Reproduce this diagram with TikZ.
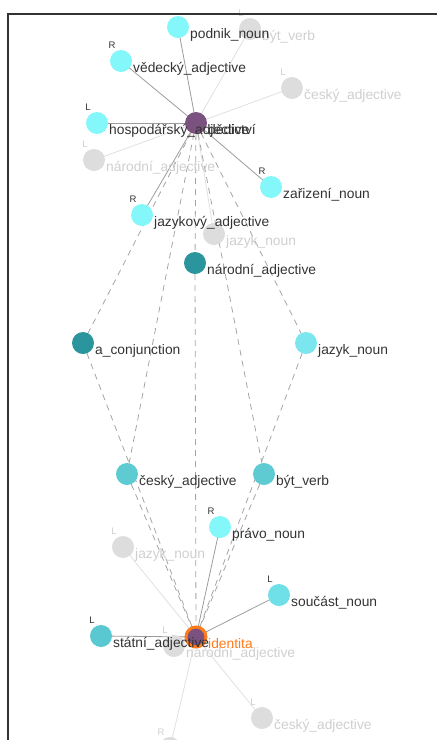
\documentclass[tikz,border=0pt]{standalone}
\usepackage{fontspec}
\setmainfont{Liberation Sans}
\definecolor{txt}{HTML}{333333}
\definecolor{gtxt}{HTML}{CFCFCF}
\definecolor{gdot}{HTML}{DDDDDD}
\definecolor{lcyan}{HTML}{84F7FB}
\definecolor{jcyan}{HTML}{7BE6EE}
\definecolor{scyan}{HTML}{70E0E8}
\definecolor{mcyan}{HTML}{5ECBD3}
\definecolor{stcyan}{HTML}{5AC8D0}
\definecolor{teal}{HTML}{2A959C}
\definecolor{purp}{HTML}{7B5180}
\definecolor{orng}{HTML}{FF7A1A}
\definecolor{edgec}{HTML}{9C9C9C}
\definecolor{ledge}{HTML}{E0E0E0}
\definecolor{dedge}{HTML}{A5A5A5}
\definecolor{framec}{HTML}{333333}
\tikzset{
  dot/.style={circle, minimum size=22pt, inner sep=0pt, draw=none},
  lbl/.style={anchor=base west, font=\fontsize{13.8}{14}\selectfont, text=txt, inner sep=0pt},
  glbl/.style={lbl, text=gtxt},
  mk/.style={font=\fontsize{9.5}{10}\selectfont, text=txt, inner sep=0pt},
  gmk/.style={mk, text=gtxt},
  soledge/.style={draw=edgec, line width=0.8pt},
  litedge/.style={draw=ledge, line width=0.8pt},
  dashedge/.style={draw=dedge, line width=0.8pt, dash pattern=on 6pt off 5pt},
}
\newcommand{\lab}[3]{\node[#3] (#1-l) at ([xshift=12pt,yshift=-11pt]#1.center) {#2};}
\newcommand{\mrk}[3]{\node[#3] (#1-m) at ([xshift=-9pt,yshift=16pt]#1.center) {#2};}
\begin{document}
\begin{tikzpicture}[x=1pt,y=-1pt]
\useasboundingbox (0,0) rectangle (437,740);
\begin{scope}
\clip (0,0) rectangle (437,740);
\coordinate (pT) at (196,123);
\coordinate (pB) at (196,637);
% gray node positions
\coordinate (g1) at (250,29);
\coordinate (g2) at (292,88);
\coordinate (g3) at (94,160);
\coordinate (g4) at (214,234);
\coordinate (g5) at (123,547);
\coordinate (g6) at (174,646);
\coordinate (g7) at (262,718);
\coordinate (g8) at (170,748);
% coloured node positions
\coordinate (c1) at (178,27);
\coordinate (c2) at (121,61);
\coordinate (c3) at (97,123);
\coordinate (c4) at (271,187);
\coordinate (c5) at (142,215);
\coordinate (t1) at (195,263);
\coordinate (t2) at (83,343);
\coordinate (j1) at (306,343);
\coordinate (m1) at (127,474);
\coordinate (m2) at (264,474);
\coordinate (c6) at (220,527);
\coordinate (s1) at (279,595);
\coordinate (s2) at (101,636);
% edges
\foreach \g in {g1,g2,g3,g4} \path[litedge] (pT) -- (\g);
\foreach \g in {g5,g6,g7,g8} \path[litedge] (pB) -- (\g);
\foreach \c in {c1,c2,c3,c4,c5} \path[soledge] (pT) -- (\c);
\foreach \c in {c6,s1,s2} \path[soledge] (pB) -- (\c);
\foreach \d in {t1,t2,j1,m1,m2} {
  \path[dashedge] (pT) -- (\d);
  \path[dashedge] (\d) -- (pB);
}
% gray nodes
\node[dot, fill=gdot] (n21) at (g1) {};
\node[dot, fill=gdot] (n22) at (g2) {};
\node[dot, fill=gdot] (n23) at (g3) {};
\node[dot, fill=gdot] (n24) at (g4) {};
\node[dot, fill=gdot] (n25) at (g5) {};
\node[dot, fill=gdot] (n26) at (g6) {};
\node[dot, fill=gdot] (n27) at (g7) {};
\node[dot, fill=gdot] (n28) at (g8) {};
% gray labels
\lab{n21}{být\_verb}{glbl} \mrk{n21}{L}{gmk}
\lab{n22}{český\_adjective}{glbl} \mrk{n22}{L}{gmk}
\lab{n23}{národní\_adjective}{glbl} \mrk{n23}{L}{gmk}
\lab{n24}{jazyk\_noun}{glbl}
\lab{n25}{jazyk\_noun}{glbl} \mrk{n25}{L}{gmk}
\lab{n26}{národní\_adjective}{glbl} \mrk{n26}{L}{gmk}
\lab{n27}{český\_adjective}{glbl} \mrk{n27}{L}{gmk}
\mrk{n28}{R}{gmk}
% colored nodes
\node[dot, fill=lcyan] (n1) at (c1) {};
\node[dot, fill=lcyan] (n2) at (c2) {};
\node[dot, fill=lcyan] (n3) at (c3) {};
\node[dot, fill=lcyan] (n4) at (c4) {};
\node[dot, fill=lcyan] (n5) at (c5) {};
\node[dot, fill=teal] (n6) at (t1) {};
\node[dot, fill=teal] (n7) at (t2) {};
\node[dot, fill=jcyan] (n8) at (j1) {};
\node[dot, fill=mcyan] (n9) at (m1) {};
\node[dot, fill=mcyan] (n10) at (m2) {};
\node[dot, fill=lcyan] (n11) at (c6) {};
\node[dot, fill=scyan] (n12) at (s1) {};
\node[dot, fill=stcyan] (n13) at (s2) {};
\node[dot, fill=purp] (T) at (pT) {};
\node[circle, minimum size=20pt, inner sep=0pt, fill=purp, draw=orng, line width=3pt] (B) at (pB) {};
% labels
\lab{n1}{podnik\_noun}{lbl}
\lab{n2}{vědecký\_adjective}{lbl} \mrk{n2}{R}{mk}
\lab{n3}{hospodářský\_adjective}{lbl} \mrk{n3}{L}{mk}
\lab{n4}{zařizení\_noun}{lbl} \mrk{n4}{R}{mk}
\lab{n5}{jazykový\_adjective}{lbl} \mrk{n5}{R}{mk}
\lab{n6}{národní\_adjective}{lbl}
\lab{n7}{a\_conjunction}{lbl}
\lab{n8}{jazyk\_noun}{lbl}
\lab{n9}{český\_adjective}{lbl}
\lab{n10}{být\_verb}{lbl}
\lab{n11}{právo\_noun}{lbl} \mrk{n11}{R}{mk}
\lab{n12}{součást\_noun}{lbl} \mrk{n12}{L}{mk}
\lab{n13}{státní\_adjective}{lbl} \mrk{n13}{L}{mk}
\lab{T}{dědictví}{lbl}
\lab{B}{identita}{lbl, text=orng}
% frame
\coordinate (fr1) at (460,14);
\coordinate (fr2) at (8,14);
\coordinate (fr3) at (8,760);
\draw[framec, line width=1.4pt] (fr1) -- (fr2) -- (fr3);
\end{scope}
\end{tikzpicture}
\end{document}
